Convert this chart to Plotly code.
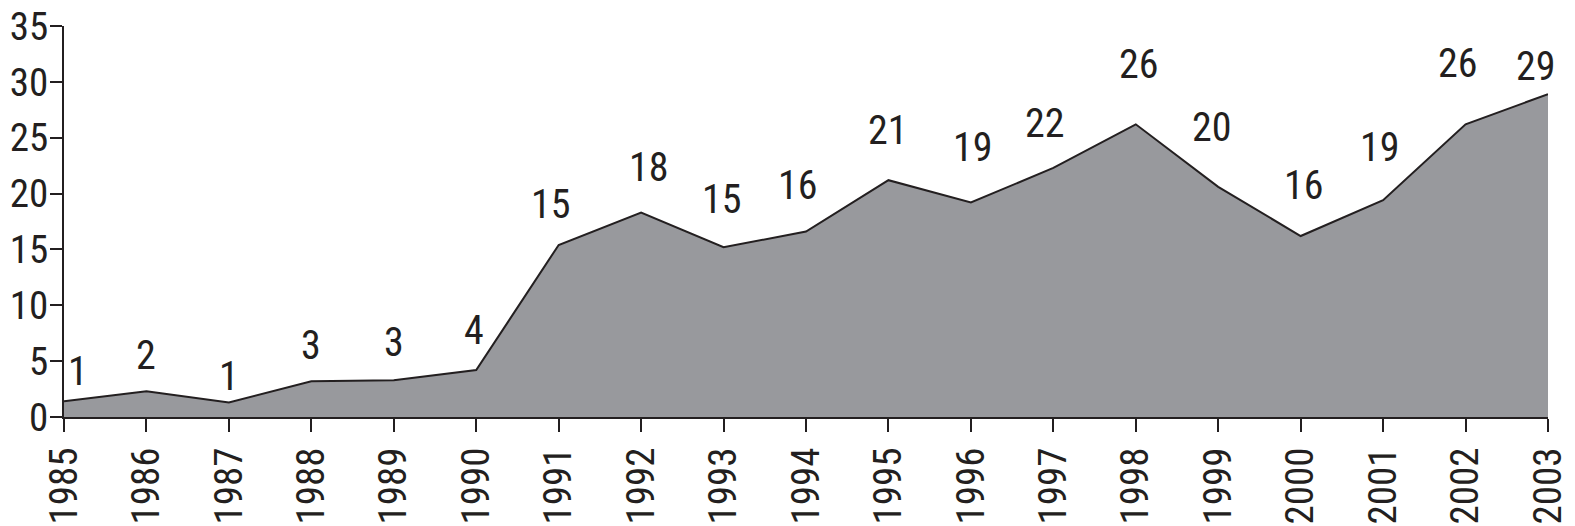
import plotly.graph_objects as go

years = list(range(1985, 2004))
values = [1.4, 2.3, 1.3, 3.2, 3.3, 4.2, 15.4, 18.3, 15.2, 16.6, 21.2, 19.2, 22.3, 26.2, 20.6, 16.2, 19.4, 26.2, 28.9]
labels = ["1", "2", "1", "3", "3", "4", "15", "18", "15", "16", "21", "19", "22", "26", "20", "16", "19", "26", "29"]
label_offsets = [30, 36, 26, 36, 38, 40, 40, 45, 48, 46, 50, 55, 44, 60, 59, 51, 53, 61, 28]
label_xshift = [14, 0, 0, 0, 0, -2, -8, 8, -2, -8, 0, 2, -8, 3, -6, 3, -3, -8, -12]

FONT = "Liberation Sans Narrow, Arial Narrow, Roboto Condensed, sans-serif"
INK = "#231f20"

fig = go.Figure()
fig.add_trace(go.Scatter(
    x=years, y=values, mode="lines", fill="tozeroy",
    fillcolor="#98999d", line=dict(color=INK, width=2),
    hoverinfo="skip", showlegend=False,
))

for x, v, t, dy, dx in zip(years, values, labels, label_offsets, label_xshift):
    fig.add_annotation(x=x, y=v, text=t, showarrow=False, yshift=dy, xshift=dx,
                       font=dict(family=FONT, size=40, color=INK))

# page body has an 8px default margin, so the figure is sized to fit the window
fig.update_layout(
    width=1567, height=518,
    margin=dict(l=56, r=27, t=18, b=109),
    paper_bgcolor="white", plot_bgcolor="white",
    font=dict(family=FONT, size=39, color=INK),
    xaxis=dict(range=[1985, 2003], tickmode="array", tickvals=years,
               ticktext=[str(y) for y in years], tickangle=-90,
               showgrid=False, zeroline=False, showline=True, automargin=False,
               linecolor=INK, linewidth=2, ticks="outside", ticklen=13,
               tickwidth=2, tickcolor=INK, tickfont=dict(size=39, family=FONT),
               ticklabeloverflow="allow"),
    yaxis=dict(range=[0, 35], tickmode="array", tickvals=[0, 5, 10, 15, 20, 25, 30, 35],
               showgrid=False, zeroline=False, showline=True, automargin=False,
               linecolor=INK, linewidth=2, ticks="outside", ticklen=12,
               tickwidth=2, tickcolor=INK, tickfont=dict(size=39, family=FONT),
               ticklabeloverflow="allow", ticklabelstandoff=-6),
)

fig.write_html("out.html")
